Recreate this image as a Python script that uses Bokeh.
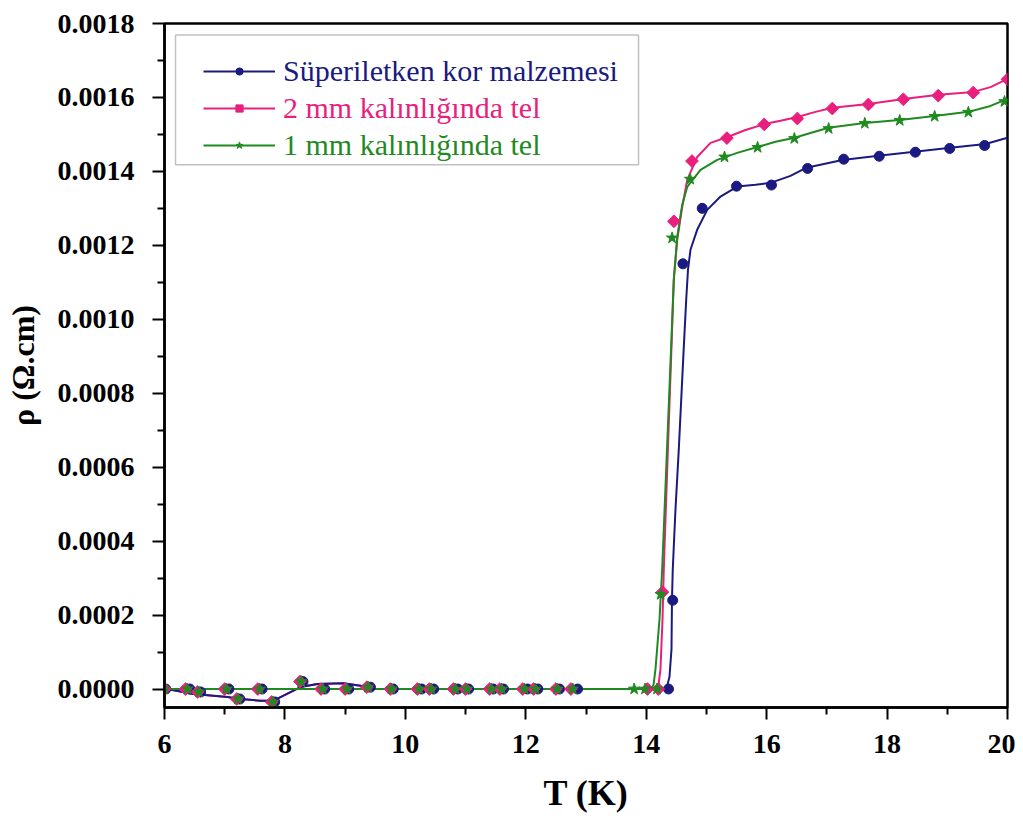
from bokeh.plotting import figure
from bokeh.models import (Range1d, FixedTicker, NumeralTickFormatter, Legend,
                          LegendItem, BoxAnnotation)
from bokeh.embed import file_html
from bokeh.resources import INLINE

# ---------------- data ----------------
# fitted curves
blue_curve_T = [6.0, 6.482, 7.046, 7.262, 7.594, 7.810, 7.976, 8.259, 8.541, 8.973, 9.255, 9.471,
                14.303, 14.348, 14.386, 14.420, 14.428, 14.441, 14.486, 14.541, 14.622, 14.664,
                14.694, 14.735, 14.846, 15.013, 15.234, 15.511, 15.815, 16.064, 16.396, 16.661,
                17.259, 17.857, 18.455, 19.053, 19.635, 20.0]
blue_curve_rho = [0.0000014, -0.0000135, -0.0000216, -0.000027, -0.0000316, -0.0000316, -0.0000181,
                  0.0000054, 0.0000135, 0.0000154, 0.0000089, 0.0,
                  0.0, 0.0000089, 0.0000324, 0.000108, 0.000243, 0.000324, 0.000486, 0.000648,
                  0.000918, 0.001053, 0.001134, 0.001188, 0.001242, 0.001296, 0.001332, 0.001359,
                  0.001364, 0.001369, 0.001388, 0.001410, 0.001431, 0.001442, 0.001453, 0.001464,
                  0.001474, 0.001491]

pink_curve_T = [6.0, 6.482, 7.046, 7.262, 7.594, 7.810, 7.976, 8.259, 8.541, 8.973, 9.255, 9.471,
                14.154, 14.204, 14.237, 14.271, 14.292, 14.360, 14.418, 14.458, 14.515, 14.598,
                14.681, 14.847, 15.068, 15.350, 15.649, 15.964, 16.230, 16.512, 16.811, 17.094,
                17.691, 18.273, 18.854, 19.435, 19.718, 20.0]
pink_curve_rho = [0.0000014, -0.0000135, -0.0000216, -0.000027, -0.0000316, -0.0000316, -0.0000181,
                  0.0000054, 0.0000135, 0.0000154, 0.0000089, 0.0,
                  0.0, 0.0000108, 0.000054, 0.000189, 0.000324, 0.000648, 0.000918, 0.001107,
                  0.001215, 0.001304, 0.001377, 0.001439, 0.001477, 0.001493, 0.001512, 0.001528,
                  0.001537, 0.001547, 0.001561, 0.001572, 0.001582, 0.001596, 0.001607, 0.001615,
                  0.001628, 0.001650]

green_curve_T = [6.0, 14.071, 14.121, 14.154, 14.221, 14.265, 14.345, 14.412, 14.458, 14.515,
                 14.598, 14.681, 14.902, 15.179, 15.511, 15.848, 16.147, 16.462, 16.728, 17.027,
                 17.625, 18.206, 18.787, 19.352, 19.718, 20.0]
green_curve_rho = [0.0, 0.0, 0.0000108, 0.000054, 0.000189, 0.000324, 0.000648, 0.000918, 0.001107,
                   0.001223, 0.001310, 0.001358, 0.001404, 0.001431, 0.001450, 0.001466, 0.001480,
                   0.001491, 0.001504, 0.001518, 0.001531, 0.001539, 0.001550, 0.001561, 0.001577,
                   0.001596]

# measured points
blue_T = [6.02, 6.42, 6.6, 7.07, 7.25, 7.62, 7.83, 8.3, 8.66, 9.06, 9.42, 9.8, 10.27, 10.47,
          10.87, 11.05, 11.46, 11.63, 12.03, 12.2, 12.56, 12.86, 14.37, 14.44, 14.61, 14.93,
          15.50, 16.08, 16.68, 17.28, 17.87, 18.47, 19.04, 19.62]
blue_rho = [0, 0, -0.000008, 0, -0.000027, 0, -0.000035, 0.00002, 0, 0, 0.000005, 0, 0, 0,
            0, 0, 0, 0, 0, 0, 0, 0, 0, 0.00024, 0.00115, 0.0013,
            0.00136, 0.001363, 0.001408, 0.001433, 0.001441, 0.001452, 0.001462, 0.00147]

pink_T = [6.0, 6.35, 6.55, 7.0, 7.2, 7.55, 7.78, 8.25, 8.6, 9.0, 9.36, 9.75, 10.2, 10.4,
          10.8, 11.0, 11.4, 11.57, 11.95, 12.13, 12.5, 12.75, 14.02, 14.2, 14.27, 14.46,
          14.76, 15.34, 15.96, 16.51, 17.09, 17.69, 18.27, 18.85, 19.43, 20.0]
pink_rho = [0, 0, -0.000008, 0, -0.000027, 0, -0.000035, 0.00002, 0, 0, 0.000005, 0, 0, 0,
            0, 0, 0, 0, 0, 0, 0, 0, 0, 0, 0.000262, 0.001265,
            0.001428, 0.00149, 0.001527, 0.001543, 0.00157, 0.001581, 0.001595, 0.001605,
            0.001613, 0.001649]

green_T = [6.0, 6.38, 6.57, 7.03, 7.22, 7.58, 7.8, 8.27, 8.63, 9.03, 9.38, 9.77, 10.23, 10.43,
           10.83, 11.02, 11.43, 11.6, 11.98, 12.16, 12.52, 12.78, 13.8, 13.98, 14.18, 14.24,
           14.43, 14.73, 15.30, 15.85, 16.46, 17.03, 17.63, 18.21, 18.79, 19.35, 19.95]
green_rho = [0, 0, -0.000008, 0, -0.000027, 0, -0.000035, 0.00002, 0, 0, 0.000005, 0, 0, 0,
             0, 0, 0, 0, 0, 0, 0, 0, 0, 0, 0, 0.000256,
             0.00122, 0.001379, 0.001439, 0.001465, 0.001489, 0.001516, 0.00153, 0.001538,
             0.001549, 0.00156, 0.001589]

labels = ["Süperiletken kor malzemesi", "2 mm kalınlığında tel", "1 mm kalınlığında tel"]
x_ticks = [6, 8, 10, 12, 14, 16, 18, 20]
x_minor = [7, 9, 11, 13, 15, 17, 19]
y_ticks = [0.0, 0.0002, 0.0004, 0.0006, 0.0008, 0.0010, 0.0012, 0.0014, 0.0016, 0.0018]
y_minor = [-0.0001, 0.0001, 0.0003, 0.0005, 0.0007, 0.0009, 0.0011, 0.0013, 0.0015, 0.0017]

# ---------------- style ----------------
NAVY = "#1a1a80"
PINK = "#e91e7d"
GREEN = "#1f8a1f"
FONT = "'Liberation Serif', 'Times New Roman', serif"

p = figure(width=1015, height=815, x_range=Range1d(6, 20), y_range=Range1d(-0.00005, 0.0018),
           output_backend="svg", toolbar_location=None,
           min_border_left=164, min_border_right=8, min_border_top=23, min_border_bottom=107)
p.xgrid.visible = False
p.ygrid.visible = False
p.outline_line_color = "black"
p.outline_line_width = 2.5
p.outline_line_alpha = 1.0
p.background_fill_color = "white"

for ax in (p.xaxis[0], p.yaxis[0]):
    ax.axis_line_width = 2.5
    ax.axis_line_color = "black"
    ax.major_tick_line_width = 2
    ax.minor_tick_line_width = 2
    ax.major_tick_in = 0
    ax.major_tick_out = 12
    ax.minor_tick_in = 0
    ax.minor_tick_out = 7
    ax.major_label_text_font = FONT
    ax.major_label_text_font_style = "bold"
    ax.major_label_text_color = "black"
    ax.axis_label_text_font = FONT
    ax.axis_label_text_font_style = "bold"
    ax.axis_label_text_color = "black"

p.xaxis.ticker = FixedTicker(ticks=x_ticks, minor_ticks=x_minor)
p.yaxis.ticker = FixedTicker(ticks=y_ticks, minor_ticks=y_minor)
p.yaxis.formatter = NumeralTickFormatter(format="0.0000")
p.xaxis.major_label_text_font_size = "28px"
p.yaxis.major_label_text_font_size = "28px"
p.xaxis.major_label_standoff = 15
p.yaxis.major_label_standoff = 18
p.xaxis.axis_label = "T (K)"
p.yaxis.axis_label = "ρ (Ω.cm)"
p.xaxis.axis_label_text_font_size = "36px"
p.yaxis.axis_label_text_font_size = "32px"
p.xaxis.axis_label_standoff = 17
p.yaxis.axis_label_standoff = 14

# curves (pink below blue so the low-temperature dip shows dark, green on top)
pl = p.line(pink_curve_T, pink_curve_rho, line_color=PINK, line_width=2)
bl = p.line(blue_curve_T, blue_curve_rho, line_color=NAVY, line_width=2)
gl = p.line(green_curve_T, green_curve_rho, line_color=GREEN, line_width=2)

# markers
bm = p.scatter(blue_T, blue_rho, marker="circle", size=10, fill_color=NAVY, line_color=NAVY)
pm = p.scatter(pink_T, pink_rho, marker="square", angle=0.785398, size=9,
               fill_color=PINK, line_color=PINK)
gm = p.scatter(green_T, green_rho, marker="star", size=12, fill_color=GREEN, line_color=GREEN)

# legend frame
box = BoxAnnotation(left=6.183, right=13.872, top=0.001769, bottom=0.001418,
                    fill_color="white", fill_alpha=1.0, line_color="#333333", line_width=1.5)
p.add_layout(box)

rows = [(labels[0], [bl, bm], NAVY, 619),
        (labels[1], [pl, pm], PINK, 582),
        (labels[2], [gl, gm], GREEN, 545)]
for lab, rens, col, ypos in rows:
    leg = Legend(items=[LegendItem(label=lab, renderers=rens)], location=(39, ypos),
                 padding=0, margin=0, spacing=0, border_line_alpha=0, background_fill_alpha=0,
                 label_text_font=FONT, label_text_font_size="30px", label_text_color=col,
                 glyph_width=72, glyph_height=18, label_standoff=8)
    p.add_layout(leg)

open("out.html", "w").write(file_html(p, INLINE))
